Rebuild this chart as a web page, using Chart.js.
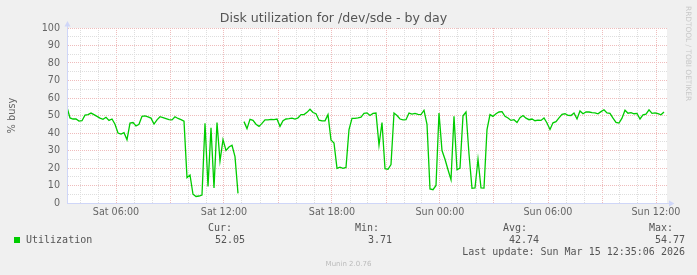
<!DOCTYPE html>
<html><head><meta charset="utf-8">
<script src="https://cdn.jsdelivr.net/npm/chart.js@4.4.0/dist/chart.umd.min.js"></script>
<style>
html,body{margin:0;padding:0;background:#f0f0f0;}
#wrap{position:relative;width:697px;height:275px;overflow:hidden;background:#f0f0f0;}
#c{position:absolute;left:0;top:0;}
.t{position:absolute;white-space:pre;font-family:"DejaVu Sans Mono",monospace;font-size:10px;line-height:12px;color:#555;}
.r{text-align:right;}
#wm{position:absolute;left:0;width:697px;top:259px;text-align:center;font-family:"DejaVu Sans",sans-serif;font-size:7px;line-height:10px;color:#bbb;}
#rrd{position:absolute;left:683px;top:6px;writing-mode:vertical-rl;font-family:"DejaVu Sans",sans-serif;font-size:7.4px;line-height:10px;color:#c8c8c8;white-space:nowrap;}
#sq{position:absolute;left:14px;top:237px;width:6px;height:6px;background:#00cc00;}
</style></head><body>
<div id="wrap">
<canvas id="c" width="697" height="275"></canvas>
</div>
<script>
// ---- data ----
const chartTitle = 'Disk utilization for /dev/sde - by day';
const yAxisTitle = '% busy';
const seriesName = 'Utilization';
const startHour = 3 + 16/60 + 40/3600;   // Sat 03:16:40 (hours since Sat 00:00)
const endHour = 36 + 36/60 + 40/3600;    // Sun 12:36:40
const stepMinutes = 10;
const utilization = [
 54.7,48.6,48,48,46.8,47,50.2,50.5,51.4,50.5,
 49.5,48.5,47.8,49,47.2,48,45,40,39.4,40.2,
 36.2,45.7,46,44,45,49.5,49.8,49.2,48.5,45.1,
 47.5,49.3,48.8,48.2,47.6,47.5,49.3,48.3,47.6,46.7,
 14.5,16,5.0,3.71,4.0,4.5,45.5,9.5,43,8.6,
 46,24,36.2,30,32,33,26.5,5.5,null,46.5,
 42.5,47.8,47.2,45,43.8,45.5,47.5,47.5,47.8,47.6,
 48,43.8,47,48,48.2,48.5,48,48.6,50.5,50.5,
 51.8,53.6,51.7,51,47.3,46.9,47,50.5,36,34.3,
 19.8,20.5,19.8,20.3,42,48.4,48.4,48.6,49,51.2,
 51.5,50,51.2,51.4,33,46,19.6,19.3,22,51.4,
 50,48,47.5,47.6,51.4,50.8,51.2,50.6,50.5,53,
 45,8,7.6,10,51.4,30,25,19,13.3,49.5,
 19,20,49.8,52,28,8.4,8.6,25,8.6,8.5,
 42,50.5,49.5,51,52,52.2,49.5,48.6,47.2,47.6,
 46,48.8,50,48.5,47.6,48,47,47.3,47.2,48.6,
 45.7,42,45.8,46.5,48.6,50.7,51,50.1,50,51.4,
 48,52.6,51,52,52,51.6,51.5,51,52.2,53.3,
 51.5,51.2,48.5,46.1,45.7,48.5,53,51.3,51.6,51,
 51.2,48,50.4,50.8,53.2,51.2,51.5,51.1,50.4,52.05
];
const timeTickHours = [6, 12, 18, 24, 30, 36];
const timeTickLabels = ['Sat 06:00', 'Sat 12:00', 'Sat 18:00', 'Sun 00:00', 'Sun 06:00', 'Sun 12:00'];
const gridHours = [4,5,6,7,8,9,10,11,12,13,14,15,16,17,18,19,20,21,22,23,24,25,26,27,28,29,30,31,32,33,34,35,36];
const statLabels = ['Cur:', 'Min:', 'Avg:', 'Max:'];
const statValues = ['52.05', '3.71', '42.74', '54.77'];
const lastUpdate = 'Last update: Sun Mar 15 12:35:06 2026';
const watermark = 'Munin 2.0.76';
const sideText = 'RRDTOOL / TOBI OETIKER';

// ---- legend (HTML text) ----
const wrap = document.getElementById('wrap');
function addText(cls, txt, style) {
  const d = document.createElement('div');
  d.className = cls; d.textContent = txt;
  Object.assign(d.style, style);
  wrap.appendChild(d);
}
const sq = document.createElement('div'); sq.id = 'sq'; wrap.appendChild(sq);
addText('t', seriesName, {left: '26px', top: '234px'});
const statHeadRight = [465, 318, 170, 24];
const statValRight = [452, 305, 158, 12];
statLabels.forEach((l, i) => addText('t r', l, {right: statHeadRight[i] + 'px', top: '222px'}));
statValues.forEach((v, i) => addText('t r', v, {right: statValRight[i] + 'px', top: '234px'}));
addText('t r', lastUpdate, {right: '12px', top: '246px'});
const wm = document.createElement('div'); wm.id = 'wm'; wm.textContent = watermark; wrap.appendChild(wm);
const rr = document.createElement('div'); rr.id = 'rrd'; rr.textContent = sideText; wrap.appendChild(rr);

// ---- chart ----
const stepHours = stepMinutes / 60;
const points = utilization.map((v, i) => ({x: startHour + i * stepHours, y: v}));

const AXIS = '#CFD6F8';
const MINOR = '#dedede';
const MAJOR = '#efbcbc';

const canvasBg = {
  id: 'canvasBg',
  beforeDraw(chart) {
    const {ctx, chartArea: a} = chart;
    ctx.save();
    ctx.fillStyle = '#ffffff';
    ctx.fillRect(a.left, a.top, a.right - a.left, a.bottom - a.top);
    ctx.restore();
  }
};
const arrows = {
  id: 'arrows',
  afterDraw(chart) {
    const {ctx, chartArea: a} = chart;
    const x0 = Math.round(a.left) + 0.5, y0 = Math.round(a.bottom) + 0.5;
    ctx.save();
    ctx.strokeStyle = AXIS; ctx.fillStyle = AXIS; ctx.lineWidth = 1;
    ctx.beginPath();
    ctx.moveTo(x0, y0); ctx.lineTo(x0, a.top - 4);
    ctx.moveTo(x0, y0); ctx.lineTo(a.right + 4, y0);
    ctx.stroke();
    ctx.beginPath();
    ctx.moveTo(x0 - 3, a.top - 1.5); ctx.lineTo(x0 + 3, a.top - 1.5); ctx.lineTo(x0, a.top - 7); ctx.closePath(); ctx.fill();
    ctx.beginPath();
    ctx.moveTo(a.right + 2, y0 - 3); ctx.lineTo(a.right + 2, y0 + 3); ctx.lineTo(a.right + 7.5, y0); ctx.closePath(); ctx.fill();
    ctx.restore();
  }
};

new Chart(document.getElementById('c'), {
  type: 'line',
  data: {
    datasets: [{
      label: seriesName,
      data: points,
      borderColor: '#00cc00',
      backgroundColor: '#00cc00',
      borderWidth: 1.3,
      pointRadius: 0,
      tension: 0,
      spanGaps: false
    }]
  },
  options: {
    responsive: false,
    animation: false,
    devicePixelRatio: 1,
    layout: {padding: {left: 0, right: 30, top: 0, bottom: 0}},
    plugins: {
      legend: {display: false},
      tooltip: {enabled: false},
      title: {
        display: true,
        text: chartTitle,
        color: '#555',
        font: {family: 'DejaVu Sans', size: 12.6, weight: 'normal'},
        padding: {top: 11, bottom: 1.88}
      }
    },
    scales: {
      x: {
        type: 'linear',
        position: 'bottom',
        min: startHour,
        max: endHour,
        afterBuildTicks: s => { s.ticks = gridHours.map(h => ({value: h})); },
        afterFit: s => { s.height = 72; },
        ticks: {
          autoSkip: false, maxRotation: 0, padding: 4,
          color: '#666',
          font: {family: 'DejaVu Sans', size: 9.6},
          callback: v => { const k = timeTickHours.indexOf(v); return k >= 0 ? timeTickLabels[k] : ''; }
        },
        grid: {
          drawTicks: false,
          lineWidth: 1,
          color: c => (c.tick && c.tick.value % 3 === 0) ? MAJOR : MINOR
        },
        border: {display: true, color: AXIS, width: 1, dash: [1, 1]}
      },
      y: {
        type: 'linear',
        min: 0, max: 100,
        afterFit: s => { s.width = 67; },
        ticks: {
          stepSize: 5, autoSkip: false, padding: 7,
          color: '#666',
          font: {family: 'DejaVu Sans', size: 9.6},
          callback: v => (v % 10 === 0 ? String(v) : '')
        },
        title: {
          display: true, text: yAxisTitle, color: '#666',
          font: {family: 'DejaVu Sans', size: 9.8},
          padding: {top: 7, bottom: 0}
        },
        grid: {
          drawTicks: false,
          lineWidth: 1,
          color: c => (!c.tick || c.tick.value === 0) ? 'rgba(0,0,0,0)' : (c.tick.value % 10 === 0 ? MAJOR : MINOR)
        },
        border: {display: true, color: AXIS, width: 1, dash: [1, 1]}
      }
    }
  },
  plugins: [canvasBg, arrows]
});
</script>
</body></html>
